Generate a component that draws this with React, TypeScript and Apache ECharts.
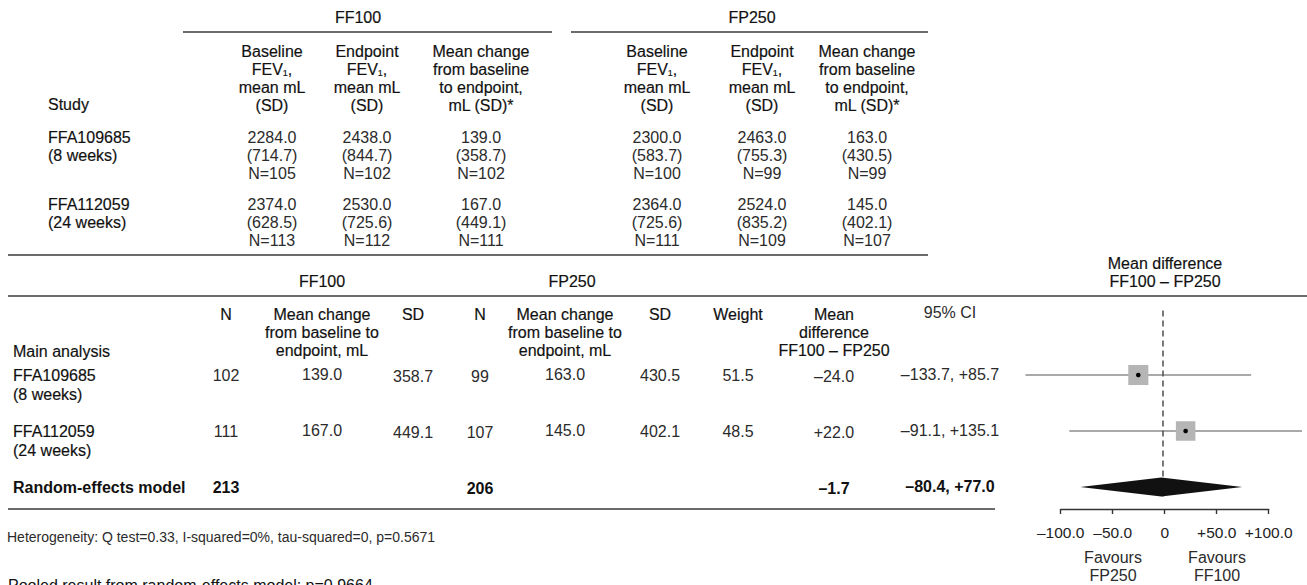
import React, { useEffect, useRef } from 'react';
import * as echarts from 'echarts';

const FONT = '"Liberation Sans", Arial, Helvetica, sans-serif';

// ---------- Data ----------
const studies = ['FFA109685', 'FFA112059'];
const durations = ['(8 weeks)', '(24 weeks)'];

// Top table (FF100)
const ff100BaselineMean = [2284.0, 2374.0];
const ff100BaselineSD = [714.7, 628.5];
const ff100BaselineN = [105, 113];
const ff100EndpointMean = [2438.0, 2530.0];
const ff100EndpointSD = [844.7, 725.6];
const ff100EndpointN = [102, 112];
const ff100ChangeMean = [139.0, 167.0];
const ff100ChangeSD = [358.7, 449.1];
const ff100ChangeN = [102, 111];
// Top table (FP250)
const fp250BaselineMean = [2300.0, 2364.0];
const fp250BaselineSD = [583.7, 725.6];
const fp250BaselineN = [100, 111];
const fp250EndpointMean = [2463.0, 2524.0];
const fp250EndpointSD = [755.3, 835.2];
const fp250EndpointN = [99, 109];
const fp250ChangeMean = [163.0, 145.0];
const fp250ChangeSD = [430.5, 402.1];
const fp250ChangeN = [99, 107];

// Meta-analysis
const weights = [51.5, 48.5];
const meanDiff = [-24.0, 22.0];
const ciLow = [-133.7, -91.1];
const ciHigh = [85.7, 135.1];
const pooledN = [213, 206];
const pooledDiff = -1.7;
const pooledLow = -80.4;
const pooledHigh = 77.0;
const axisTicks = [-100, -50, 0, 50, 100];
const heterogeneityText = 'Heterogeneity: Q test=0.33, I-squared=0%, tau-squared=0, p=0.5671';
const pooledText = 'Pooled result from random-effects model: p=0.9664';

// ---------- helpers ----------
const DASH = '\u2013';
const f1 = (v: number) => v.toFixed(1);
const sgn = (v: number) => (v > 0 ? '+' : v < 0 ? DASH : '') + Math.abs(v).toFixed(1);

const HEAD = '#111111';
const DATA = '#2b2b2b';

function txt(text: string, x: number, y: number, o: any = {}) {
  const medium = o.medium ?? false;
  const color = o.color ?? (medium ? HEAD : DATA);
  return {
    type: 'text',
    x,
    y,
    silent: true,
    style: {
      text,
      fontSize: o.size ?? 16,
      fontFamily: FONT,
      fontWeight: o.weight ?? 'normal',
      fill: color,
      stroke: medium ? color : undefined,
      lineWidth: medium ? 0.18 : 0,
      textAlign: o.align ?? 'center',
      textVerticalAlign: 'middle',
      align: o.align ?? 'center',
      verticalAlign: 'middle',
      rich: o.rich,
    },
  };
}
function hline(x1: number, x2: number, y: number, w = 1.5, c = '#3a3a3a') {
  return { type: 'line', silent: true, shape: { x1, y1: y, x2, y2: y }, style: { stroke: c, lineWidth: w } };
}

const FEV_RICH = { s: { fontSize: 9, fontFamily: FONT, verticalAlign: 'bottom', fill: HEAD } };

function buildGraphics() {
  const g: any[] = [];
  const M = { medium: true };
  // ---- top table ----
  g.push(txt('FF100', 358, 17, M));
  g.push(txt('FP250', 752, 17, M));
  g.push(hline(183, 552, 32, 1.3));
  g.push(hline(571, 928, 32, 1.3));
  const hy = [51, 69, 87, 105];
  const fevHeader = (x: number, first: string) => {
    g.push(txt(first, x, hy[0], M));
    g.push(txt('FEV{s|1},', x, hy[1], { ...M, rich: FEV_RICH }));
    g.push(txt('mean mL', x, hy[2], M));
    g.push(txt('(SD)', x, hy[3], M));
  };
  const chHeader = (x: number) => {
    ['Mean change', 'from baseline', 'to endpoint,', 'mL (SD)*'].forEach((s, i) => g.push(txt(s, x, hy[i], M)));
  };
  const topCols = [272, 367, 481, 657, 762, 867];
  fevHeader(topCols[0], 'Baseline');
  fevHeader(topCols[1], 'Endpoint');
  chHeader(topCols[2]);
  fevHeader(topCols[3], 'Baseline');
  fevHeader(topCols[4], 'Endpoint');
  chHeader(topCols[5]);
  g.push(txt('Study', 48, 104, { ...M, align: 'left' }));
  const topData = [
    [ff100BaselineMean, ff100BaselineSD, ff100BaselineN],
    [ff100EndpointMean, ff100EndpointSD, ff100EndpointN],
    [ff100ChangeMean, ff100ChangeSD, ff100ChangeN],
    [fp250BaselineMean, fp250BaselineSD, fp250BaselineN],
    [fp250EndpointMean, fp250EndpointSD, fp250EndpointN],
    [fp250ChangeMean, fp250ChangeSD, fp250ChangeN],
  ];
  const rowY = [137, 204];
  studies.forEach((s, i) => {
    g.push(txt(s, 48, rowY[i], { ...M, align: 'left' }));
    g.push(txt(durations[i], 48, rowY[i] + 18, { ...M, align: 'left' }));
    topData.forEach((col, c) => {
      g.push(txt(f1(col[0][i]), topCols[c], rowY[i]));
      g.push(txt('(' + f1(col[1][i]) + ')', topCols[c], rowY[i] + 18));
      g.push(txt('N=' + col[2][i], topCols[c], rowY[i] + 36));
    });
  });
  g.push(hline(8, 928, 255, 1.6));

  // ---- lower table ----
  g.push(txt('FF100', 322, 281, M));
  g.push(txt('FP250', 572, 281, M));
  g.push(txt('Mean difference', 1165, 263, M));
  g.push(txt('FF100 ' + DASH + ' FP250', 1165, 281, M));
  g.push(hline(8, 1307, 296, 1.6));
  const lc = { n1: 226, mc1: 322, sd1: 413, n2: 480, mc2: 565, sd2: 660, w: 738, md: 834, ci: 950 };
  const ly = [314, 332, 350];
  g.push(txt('N', lc.n1, ly[0], M));
  ['Mean change', 'from baseline to', 'endpoint, mL'].forEach((s, i) => g.push(txt(s, lc.mc1, ly[i], M)));
  g.push(txt('SD', lc.sd1, ly[0], M));
  g.push(txt('N', lc.n2, ly[0], M));
  ['Mean change', 'from baseline to', 'endpoint, mL'].forEach((s, i) => g.push(txt(s, lc.mc2, ly[i], M)));
  g.push(txt('SD', lc.sd2, ly[0], M));
  g.push(txt('Weight', lc.w, ly[0], M));
  ['Mean', 'difference', 'FF100 ' + DASH + ' FP250'].forEach((s, i) => g.push(txt(s, lc.md, ly[i], M)));
  g.push(txt('95% CI', lc.ci, ly[0] - 2));
  g.push(txt('Main analysis', 13, 351, { ...M, align: 'left' }));
  const ry = [375, 431];
  studies.forEach((s, i) => {
    const y = ry[i];
    g.push(txt(s, 13, y, { ...M, align: 'left' }));
    g.push(txt(durations[i], 13, y + 19, { ...M, align: 'left' }));
    g.push(txt(String(ff100ChangeN[i]), lc.n1, y));
    g.push(txt(f1(ff100ChangeMean[i]), lc.mc1, y - 1));
    g.push(txt(f1(ff100ChangeSD[i]), lc.sd1, y + 1));
    g.push(txt(String(fp250ChangeN[i]), lc.n2, y + 1));
    g.push(txt(f1(fp250ChangeMean[i]), lc.mc2, y - 1));
    g.push(txt(f1(fp250ChangeSD[i]), lc.sd2, y));
    g.push(txt(f1(weights[i]), lc.w, y));
    g.push(txt(sgn(meanDiff[i]), lc.md, y + 1));
    g.push(txt(sgn(ciLow[i]) + ', ' + sgn(ciHigh[i]), lc.ci, y - 1));
  });
  const b = { weight: 'bold', color: '#111' };
  g.push(txt('Random-effects model', 13, 487, { ...b, align: 'left' }));
  g.push(txt(String(pooledN[0]), lc.n1, 487, b));
  g.push(txt(String(pooledN[1]), lc.n2, 488, b));
  g.push(txt(sgn(pooledDiff), lc.md, 488, b));
  g.push(txt(sgn(pooledLow) + ', ' + sgn(pooledHigh), lc.ci, 486, b));
  g.push(hline(8, 995, 509, 1.6));

  g.push(txt(heterogeneityText, 7, 537, { align: 'left', size: 14 }));
  g.push({
    type: 'text', x: 8, y: 577, silent: true,
    style: { text: pooledText, fontSize: 16, fontFamily: FONT, fill: '#111', textAlign: 'left', align: 'left', textVerticalAlign: 'top', verticalAlign: 'top' },
  });

  // favours labels
  g.push(txt('Favours', 1113, 557));
  g.push(txt('FP250', 1113, 575));
  g.push(txt('Favours', 1217, 557));
  g.push(txt('FF100', 1217, 575));
  return g;
}

// forest scale: 1.04 px per unit, zero at x=1164.7
const PX = 1.04;
const ZERO_X = 1164.7;
const X_MIN = -150;
const X_MAX = 140;

export default function App() {
  const ref = useRef<HTMLDivElement>(null);
  useEffect(() => {
    if (!ref.current) return;
    const chart = echarts.init(ref.current, undefined, { renderer: 'svg' });
    const studyRows = meanDiff.map((m, i) => [m, i + 1, ciLow[i], ciHigh[i], weights[i]]);
    const option: any = {
      animation: false,
      backgroundColor: '#ffffff',
      textStyle: { fontFamily: FONT },
      grid: [
        { left: ZERO_X + X_MIN * PX, width: (X_MAX - X_MIN) * PX, top: 291, height: 224 },
        { left: ZERO_X - 100 * PX, width: 200 * PX, top: 400, height: 109 },
      ],
      xAxis: [
        { type: 'value', gridIndex: 0, min: X_MIN, max: X_MAX, show: false },
        {
          type: 'value', gridIndex: 1, min: -100, max: 100, interval: 50,
          axisLine: { show: true, onZero: false, lineStyle: { color: '#333', width: 1.4 } },
          axisTick: { show: true, length: 5, lineStyle: { color: '#333', width: 1.4 } },
          splitLine: { show: false },
          axisLabel: {
            margin: 15, fontSize: 15.5, color: '#222', fontFamily: FONT,
            formatter: (v: number) => (axisTicks.includes(v) ? (v === 0 ? '0' : sgn(v)) : ''),
          },
        },
      ],
      yAxis: [
        { type: 'value', gridIndex: 0, min: -0.5, max: 3.5, inverse: true, show: false },
        { type: 'value', gridIndex: 1, min: 0, max: 1, show: false },
      ],
      series: [
        {
          type: 'custom', xAxisIndex: 0, yAxisIndex: 0, silent: true,
          data: [[0, -0.15, 3.2]],
          renderItem: (_p: any, api: any) => {
            const a = api.coord([api.value(0), api.value(1)]);
            const b = api.coord([api.value(0), api.value(2)]);
            return { type: 'line', shape: { x1: a[0], y1: a[1], x2: b[0], y2: b[1] }, style: { stroke: '#222', lineWidth: 1.2, lineDash: [6, 4] } };
          },
        },
        {
          type: 'custom', xAxisIndex: 0, yAxisIndex: 0, silent: true,
          data: studyRows,
          encode: { x: [0, 2, 3], y: 1 },
          renderItem: (_p: any, api: any) => {
            const m = api.value(0), r = api.value(1), lo = api.value(2), hi = api.value(3), w = api.value(4);
            const pLo = api.coord([lo, r]);
            const pHi = api.coord([hi, r]);
            const pM = api.coord([m, r]);
            const s = Math.sqrt(w) * 2.8;
            return {
              type: 'group',
              children: [
                { type: 'line', shape: { x1: pLo[0], y1: pLo[1], x2: pHi[0], y2: pHi[1] }, style: { stroke: '#555', lineWidth: 1.2 } },
                { type: 'rect', shape: { x: pM[0] - s / 2, y: pM[1] - s / 2, width: s, height: s }, style: { fill: '#b5b5b5' } },
                { type: 'circle', shape: { cx: pM[0], cy: pM[1], r: 2.3 }, style: { fill: '#000' } },
              ],
            };
          },
        },
        {
          type: 'custom', xAxisIndex: 0, yAxisIndex: 0, silent: true,
          data: [[pooledDiff, 3, pooledLow, pooledHigh]],
          encode: { x: [0, 2, 3], y: 1 },
          renderItem: (_p: any, api: any) => {
            const m = api.value(0), r = api.value(1), lo = api.value(2), hi = api.value(3);
            const h = 0.17;
            return {
              type: 'polygon',
              shape: { points: [api.coord([lo, r]), api.coord([m, r - h]), api.coord([hi, r]), api.coord([m, r + h])] },
              style: { fill: '#111' },
            };
          },
        },
      ],
      graphic: buildGraphics(),
    };
    chart.setOption(option);
    return () => chart.dispose();
  }, []);
  return <div ref={ref} style={{ position: 'fixed', left: 0, top: 0, width: 1307, height: 585, background: '#fff' }} />;
}
